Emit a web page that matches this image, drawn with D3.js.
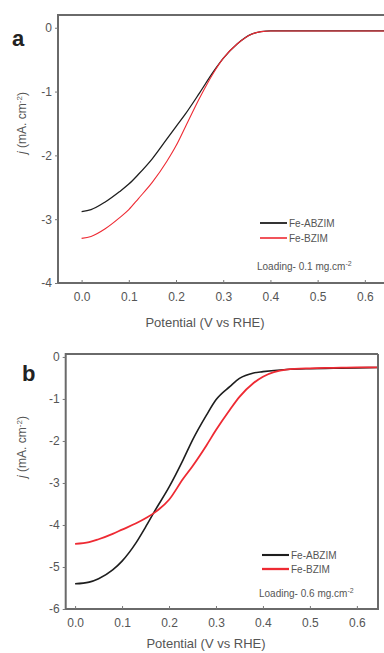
<!DOCTYPE html>
<html>
<head>
<meta charset="utf-8">
<script src="https://cdn.jsdelivr.net/npm/d3@7/dist/d3.min.js"></script>
<style>
  html, body { margin: 0; padding: 0; background: #fff; }
  svg { display: block; font-family: "Liberation Sans", Arial, sans-serif; }
  .tick text { fill: #555; font-size: 12px; }
  .lbl { fill: #555; }
</style>
</head>
<body>
<div id="chart-container"></div>
<script>
// potential (V vs RHE)
var potA = [0.0, 0.02, 0.05, 0.08, 0.1, 0.12, 0.15, 0.18, 0.2, 0.22, 0.25, 0.28, 0.3, 0.33, 0.36, 0.38, 0.4, 0.45, 0.5, 0.55, 0.6, 0.65, 0.68];
var abzimA = [-2.88, -2.85, -2.73, -2.57, -2.45, -2.3, -2.05, -1.75, -1.55, -1.35, -1.02, -0.68, -0.48, -0.25, -0.1, -0.06, -0.05, -0.05, -0.05, -0.05, -0.05, -0.05, -0.05];
var bzimA = [-3.3, -3.27, -3.15, -2.98, -2.85, -2.68, -2.42, -2.1, -1.85, -1.55, -1.1, -0.7, -0.48, -0.25, -0.1, -0.06, -0.05, -0.05, -0.05, -0.05, -0.05, -0.05, -0.05];

var potB = [0.0, 0.03, 0.05, 0.08, 0.1, 0.13, 0.15, 0.17, 0.2, 0.23, 0.25, 0.28, 0.3, 0.33, 0.35, 0.38, 0.4, 0.45, 0.5, 0.55, 0.6, 0.645];
var abzimB = [-5.4, -5.36, -5.28, -5.07, -4.86, -4.42, -4.05, -3.66, -3.1, -2.45, -1.98, -1.38, -1.02, -0.7, -0.51, -0.38, -0.35, -0.3, -0.28, -0.27, -0.26, -0.25];
var bzimB = [-4.45, -4.41, -4.34, -4.21, -4.11, -3.96, -3.84, -3.7, -3.4, -2.9, -2.6, -2.1, -1.74, -1.25, -0.95, -0.62, -0.47, -0.3, -0.27, -0.26, -0.25, -0.25];

var xTicks = [0, 0.1, 0.2, 0.3, 0.4, 0.5, 0.6];
var yTicksA = [0, -1, -2, -3, -4];
var yTicksB = [0, -1, -2, -3, -4, -5, -6];
var seriesNames = ['Fe-ABZIM', 'Fe-BZIM'];
var loadingA = 'Loading- 0.1 mg.cm';
var loadingB = 'Loading- 0.6 mg.cm';

var svg = d3.select('#chart-container').append('svg').attr('width', 384).attr('height', 653);

function panel(opt) {
  var x = d3.scaleLinear().domain(opt.xDom).range(opt.xRange);
  var y = d3.scaleLinear().domain(opt.yDom).range(opt.yRange);
  var g = svg.append('g');

  var line = d3.line()
    .x(function(d) { return x(d[0]); })
    .y(function(d) { return y(d[1]); })
    .curve(d3.curveMonotoneX);

  var series = [
    { vals: opt.black, color: '#1e1e1e', w: opt.lwBlack },
    { vals: opt.red, color: '#ee2a33', w: opt.lwRed }
  ];
  // red drawn last (on top)
  series.forEach(function(s) {
    g.append('path')
      .datum(d3.zip(opt.pot, s.vals))
      .attr('fill', 'none')
      .attr('stroke', s.color)
      .attr('stroke-width', s.w)
      .attr('stroke-linejoin', 'round')
      .attr('d', line);
  });

  // frame
  var x0 = opt.xRange[0], x1 = opt.xRange[1], y0 = opt.yRange[0], y1 = opt.yRange[1];
  g.append('path')
    .attr('d', 'M' + x1 + ',' + y1 + 'H' + x0 + 'V' + y0 + 'H' + x1 + (opt.rightFrame ? 'V' + y1 : ''))
    .attr('fill', 'none')
    .attr('stroke', '#6a6a6a')
    .attr('stroke-width', 2);

  var xa = g.append('g')
    .attr('transform', 'translate(0,' + y0 + ')')
    .call(d3.axisBottom(x).tickValues(xTicks).tickFormat(d3.format('.1f')).tickSize(-3).tickPadding(9));
  xa.select('.domain').remove();
  xa.selectAll('.tick line').attr('stroke', '#777');

  var ya = g.append('g')
    .attr('transform', 'translate(' + x0 + ',0)')
    .call(d3.axisLeft(y).tickValues(opt.yTicks).tickFormat(d3.format('d')).tickSize(3).tickPadding(3));
  ya.select('.domain').remove();
  ya.selectAll('.tick line').attr('stroke', '#777');
  ya.selectAll('.tick text').text(function(d) { return d < 0 ? '-' + (-d) : d; });

  g.append('text')
    .attr('class', 'lbl')
    .attr('x', opt.titleX).attr('y', opt.titleY)
    .attr('text-anchor', 'middle')
    .style('font-size', '13px')
    .text('Potential (V vs RHE)');

  var yt = g.append('text')
    .attr('class', 'lbl')
    .attr('transform', 'translate(' + opt.yTitle[0] + ',' + opt.yTitle[1] + ') rotate(-90)')
    .attr('text-anchor', 'middle')
    .style('font-size', '12px');
  yt.append('tspan').style('font-style', 'italic').text('j');
  yt.append('tspan').text(' (mA. cm');
  yt.append('tspan').attr('dy', -4).style('font-size', '8px').text('-2');
  yt.append('tspan').attr('dy', 4).text(')');

  g.append('text')
    .attr('x', opt.letter[0]).attr('y', opt.letter[1])
    .style('font-size', '22px').style('font-weight', 'bold').attr('fill', '#222')
    .text(opt.letterText);

  // legend
  series.forEach(function(s, i) {
    var ly = opt.legY + i * opt.legGap;
    g.append('line')
      .attr('x1', opt.legX).attr('x2', opt.legX + 27)
      .attr('y1', ly).attr('y2', ly)
      .attr('stroke', s.color).attr('stroke-width', s.w + 0.5);
    g.append('text')
      .attr('class', 'lbl')
      .attr('x', opt.legX + 29).attr('y', ly + 3.5)
      .style('font-size', '10px')
      .text(seriesNames[i]);
  });
  var lt = g.append('text')
    .attr('class', 'lbl')
    .attr('x', opt.loadX).attr('y', opt.loadY)
    .style('font-size', '10px');
  lt.append('tspan').text(opt.loading);
  lt.append('tspan').attr('dy', -4).style('font-size', '7px').text('-2');
}

panel({
  pot: potA, black: abzimA, red: bzimA,
  xDom: [-0.05, 0.68], xRange: [58, 402.6],
  yDom: [-4, 0.2], yRange: [283, 15],
  yTicks: yTicksA, rightFrame: false,
  lwBlack: 1.3, lwRed: 1.1,
  titleX: 205, titleY: 327,
  yTitle: [26, 123],
  letter: [12, 46], letterText: 'a',
  legX: 260, legY: 223, legGap: 15,
  loadX: 257, loadY: 270, loading: loadingA
});

panel({
  pot: potB, black: abzimB, red: bzimB,
  xDom: [-0.02, 0.645], xRange: [65.7, 378],
  yDom: [-6, 0.07], yRange: [609, 354],
  yTicks: yTicksB, rightFrame: true,
  lwBlack: 1.6, lwRed: 1.8,
  titleX: 206, titleY: 648,
  yTitle: [26, 447],
  letter: [22, 381], letterText: 'b',
  legX: 262, legY: 555, legGap: 14,
  loadX: 259, loadY: 597, loading: loadingB
});
</script>
</body>
</html>
